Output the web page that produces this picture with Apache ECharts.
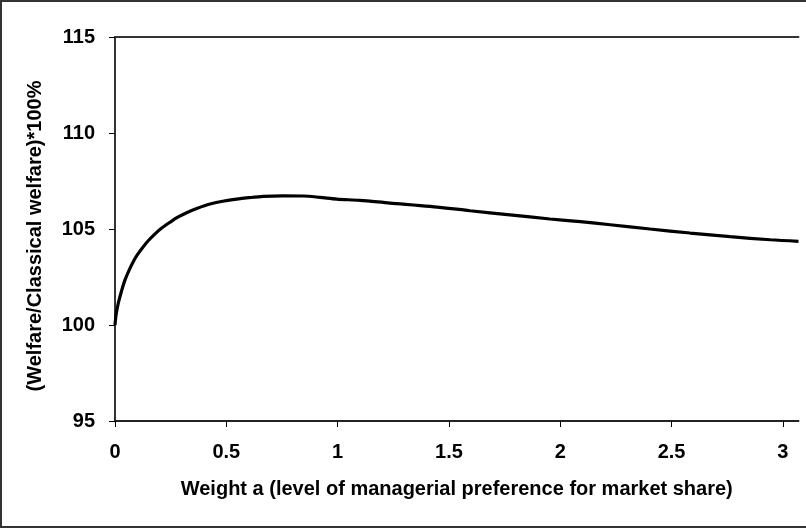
<!DOCTYPE html>
<html>
<head>
<meta charset="utf-8">
<script src="https://cdn.jsdelivr.net/npm/echarts@6/dist/echarts.min.js"></script>
<style>
  html, body { margin: 0; padding: 0; background: #fff; }
  #frame {
    position: absolute; left: 0; top: 0;
    width: 812px; height: 528px;
    box-sizing: border-box;
    border: 2px solid #333;
    pointer-events: none;
  }
  #chart { position: absolute; left: 0; top: 0; width: 806px; height: 529px; }
</style>
</head>
<body>
<div id="chart"></div>
<div id="frame"></div>
<script>
// Weight a (managerial preference for market share)
const weightA = [0, 0.005, 0.015, 0.03, 0.045, 0.065, 0.082, 0.1, 0.127, 0.15,
  0.18, 0.21, 0.247, 0.28, 0.322, 0.37, 0.427, 0.49, 0.547, 0.6,
  0.666, 0.75, 0.846, 0.92, 0.996, 1.1, 1.235, 1.415, 1.595, 1.774,
  1.954, 2.09, 2.224, 2.403, 2.583, 2.763, 2.943, 3.07];
// Welfare relative to classical welfare, in percent
const welfarePct = [100.0, 100.55, 101.15, 101.8, 102.35, 102.9, 103.3, 103.65, 104.08, 104.4,
  104.75, 105.05, 105.35, 105.6, 105.85, 106.08, 106.3, 106.46, 106.56, 106.63,
  106.7, 106.73, 106.72, 106.65, 106.56, 106.49, 106.35, 106.18, 105.95, 105.74,
  105.52, 105.38, 105.22, 105.0, 104.79, 104.6, 104.44, 104.36];
const xTicks = [0, 0.5, 1, 1.5, 2, 2.5, 3];
const yTicks = [95, 100, 105, 110, 115];

const xMax = 3.07;
const fontFamily = '"Liberation Sans", Arial, sans-serif';
const textStyle = { fontFamily: fontFamily, fontWeight: 'bold', fontSize: 20, color: '#000' };

const chart = echarts.init(document.getElementById('chart'), null, { renderer: 'canvas' });
chart.setOption({
  animation: false,
  backgroundColor: '#fff',
  grid: { left: 115, top: 37, right: 7.5, bottom: 108 },
  xAxis: [{
    type: 'value', min: 0, max: xMax, position: 'bottom',
    name: 'Weight a (level of managerial preference for market share)',
    nameLocation: 'middle', nameGap: 58,
    nameTextStyle: textStyle,
    axisLine: { show: true, lineStyle: { color: '#222', width: 2 } },
    axisTick: { show: true, inside: false, length: 6, customValues: xTicks, lineStyle: { color: '#000', width: 1 } },
    axisLabel: Object.assign({ margin: 21, customValues: xTicks, formatter: v => String(v) }, textStyle),
    splitLine: { show: false }
  }, {
    type: 'value', min: 0, max: xMax, position: 'top',
    axisLine: { show: true, lineStyle: { color: '#333', width: 2 } },
    axisTick: { show: false }, axisLabel: { show: false }, splitLine: { show: false }
  }],
  yAxis: [{
    type: 'value', min: 95, max: 115, interval: 5, position: 'left',
    name: '(Welfare/Classical welfare)*100%',
    nameLocation: 'middle', nameGap: 70, nameRotate: 90,
    nameTextStyle: Object.assign({ padding: [0, 14, 0, 0] }, textStyle),
    axisLine: { show: true, lineStyle: { color: '#000', width: 1 } },
    axisTick: { show: true, inside: false, length: 6, customValues: yTicks, lineStyle: { color: '#000', width: 1 } },
    axisLabel: Object.assign({ margin: 20, customValues: yTicks }, textStyle),
    splitLine: { show: false }
  }, {
    type: 'value', min: 95, max: 115, position: 'right',
    axisLine: { show: true, lineStyle: { color: '#333', width: 2 } },
    axisTick: { show: false }, axisLabel: { show: false }, splitLine: { show: false }
  }],
  series: [{
    type: 'line',
    xAxisIndex: 0, yAxisIndex: 0,
    data: weightA.map((a, i) => [a, welfarePct[i]]),
    smooth: 0.3,
    showSymbol: false,
    lineStyle: { color: '#000', width: 3.2 }
  }]
});
</script>
</body>
</html>
